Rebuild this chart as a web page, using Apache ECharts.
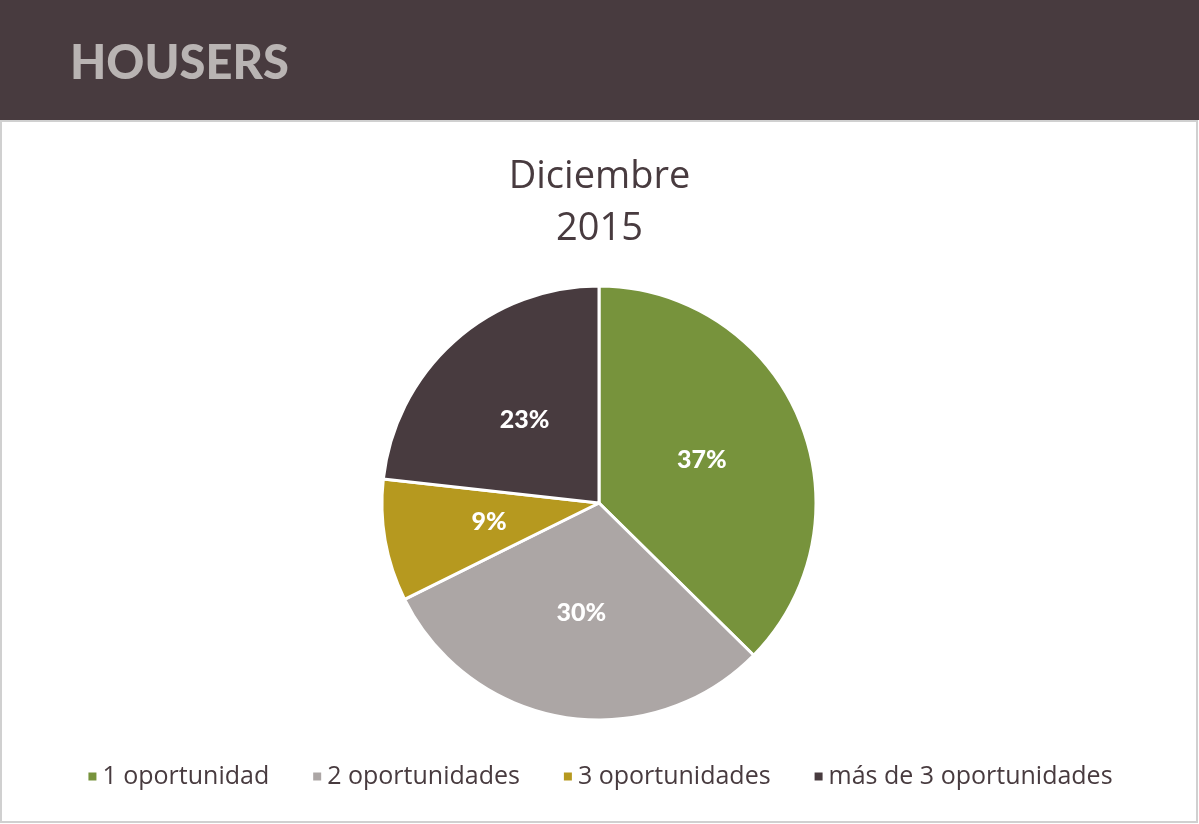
<!DOCTYPE html>
<html>
<head>
<meta charset="utf-8">
<script src="https://cdn.jsdelivr.net/npm/echarts@6/dist/echarts.min.js"></script>
<style>
  html, body { margin: 0; padding: 0; background: #fff; }
  #chart { width: 1199px; height: 824px; }
</style>
</head>
<body>
<div id="chart"></div>
<script>
// datos del gráfico
const categories = ['1 oportunidad', '2 oportunidades', '3 oportunidades', 'más de 3 oportunidades'];
const values = [37, 30, 9, 23];
const colors = ['#77933c', '#aca6a5', '#b6991f', '#483b3f'];

let chart = echarts.init(document.getElementById('chart'));

let option = {
  animation: false,
  color: colors,
  title: {
    text: 'Diciembre\n2015',
    left: 'center',
    top: 146,
    textStyle: {
      fontFamily: 'Open Sans',
      fontWeight: 'normal',
      fontSize: 38,
      lineHeight: 52,
      color: '#483b3f'
    }
  },
  graphic: [
    { type: 'rect', shape: { x: 0, y: 0, width: 1199, height: 120 }, style: { fill: '#483b3f' } },
    { type: 'rect', shape: { x: 1, y: 121, width: 1196, height: 701 }, style: { fill: 'none', stroke: '#d0d0d0', lineWidth: 2 } },
    { type: 'text', left: 70, top: 40, style: { text: 'HOUSERS', fontFamily: 'Lato', fontWeight: 900, fontSize: 47, fill: '#b9b4b3' } }
  ],
  legend: {
    bottom: 30,
    left: 'center',
    icon: 'rect',
    itemWidth: 10,
    itemHeight: 10,
    itemGap: 42,
    data: categories,
    textStyle: { fontFamily: 'Open Sans', fontSize: 25, color: '#483b3f' }
  },
  series: [{
    type: 'pie',
    center: [599, 503],
    radius: 217,
    startAngle: 90,
    clockwise: true,
    data: categories.map((c, i) => ({ name: c, value: values[i] })),
    itemStyle: { borderColor: '#fff', borderWidth: 3 },
    label: {
      position: 'inside',
      formatter: '{c}%',
      fontFamily: 'Lato',
      fontWeight: 900,
      fontSize: 25,
      color: '#fff'
    },
    labelLine: { show: false }
  }]
};
option && chart.setOption(option);
</script>
</body>
</html>
